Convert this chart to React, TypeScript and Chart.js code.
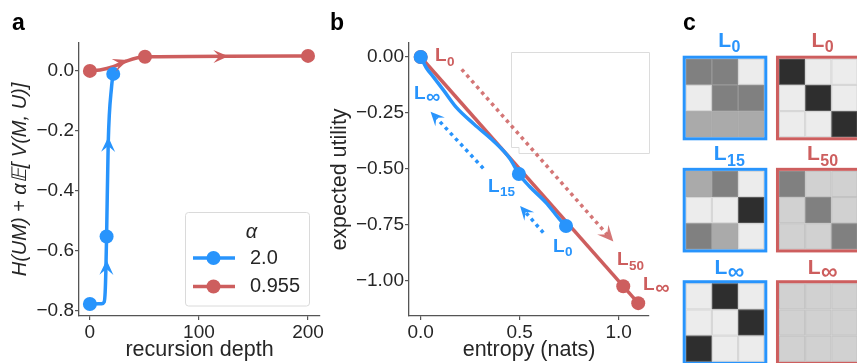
import React, { useEffect, useRef } from "react";
import { Chart, registerables } from "chart.js";
Chart.register(...registerables);

const FONT = "'Liberation Sans', Arial, sans-serif";
const BLUE = "rgb(40,148,252)";
const RED = "rgb(205,94,94)";
const RED_DOT = "rgba(205,94,94,0.85)";
const TXT = "#262626";
const AXIS = "#555555";

// ---------- Panel a ----------
const depthTicks = [0, 100, 200];
const objTicks = [0, -0.2, -0.4, -0.6, -0.8];
const blueDepth = [0, 10.7, 13.1, 14.0, 14.6, 15.3, 16.8, 19.9, 21.4];
const blueObj = [-0.777, -0.776, -0.77, -0.737, -0.67, -0.552, -0.241, -0.052, -0.01];
const blueMarkDepth = [0, 15.3, 21.4];
const blueMarkObj = [-0.777, -0.552, -0.01];
const redDepth = [0, 9.2, 21.4, 33.6, 50.5, 200];
const redObj = [0, 0.003, 0.014, 0.033, 0.047, 0.05];
const redMarkDepth = [0, 50.5, 200];
const redMarkObj = [0, 0.047, 0.05];
// arrows: [tailX, tailY, tipX, tipY]
const blueArrowsA = [[15.0, -0.72, 15.3, -0.63], [16.5, -0.33, 16.9, -0.22]];
const redArrowsA = [[22, 0.019, 35, 0.036], [110, 0.048, 127, 0.049]];
const legendLabels = ["2.0", "0.955"];

// ---------- Panel b ----------
const entTicks = [0, 0.5, 1.0];
const utilTicks = [0, -0.25, -0.5, -0.75, -1.0];
const redEnt = [0, 1.0986];
const redUtil = [0, -1.0986];
const redMarkEnt = [0, 1.023, 1.0986];
const redMarkUtil = [0, -1.023, -1.0986];
const blueEnt = [0, 0.03, 0.065, 0.115, 0.18, 0.27, 0.37, 0.45, 0.496, 0.55, 0.635, 0.705, 0.734];
const blueUtil = [0, -0.05, -0.09, -0.148, -0.225, -0.3, -0.377, -0.453, -0.522, -0.578, -0.652, -0.728, -0.754];
const blueMarkEnt = [0, 0.496, 0.734];
const blueMarkUtil = [0, -0.522, -0.754];
const redDotArrows = [[0.207, -0.055, 0.973, -0.824]];
const blueDotArrows = [[0.316, -0.497, 0.05, -0.244], [0.619, -0.784, 0.502, -0.665]];
// labels: [x, y(baseline), subscript]
const blueLabelsB: [number, number, string][] = [[-0.034, -0.189, "∞"], [0.34, -0.601, "15"], [0.668, -0.869, "0"]];
const redLabelsB: [number, number, string][] = [[0.072, -0.017, "0"], [0.991, -0.929, "50"], [1.123, -1.04, "∞"]];

// ---------- Panel c ----------
const blueL0 = [[0.57, 0.57, 0], [0, 0.57, 0.57], [0.35, 0.35, 0.35]];
const redL0 = [[1, 0, 0], [0, 1, 0], [0, 0, 1]];
const blueL15 = [[0.35, 0.57, 0], [0, 0, 1], [0.57, 0.35, 0]];
const redL50 = [[0.57, 0.14, 0.14], [0.14, 0.57, 0.14], [0.14, 0.14, 0.57]];
const blueLinf = [[0, 1, 0], [0, 0, 1], [1, 0, 0]];
const redLinf = [[0.14, 0.14, 0.14], [0.14, 0.14, 0.14], [0.14, 0.14, 0.14]];
const heatSubs = [["0", "0"], ["15", "50"], ["∞", "∞"]];

const zip = (xs: number[], ys: number[]) => xs.map((x, i) => ({ x, y: ys[i] }));

function arrowHead(ctx: CanvasRenderingContext2D, tx: number, ty: number, ang: number, len: number, hw: number, color: string) {
  ctx.save();
  ctx.translate(tx, ty);
  ctx.rotate(ang);
  ctx.fillStyle = color;
  ctx.beginPath();
  ctx.moveTo(0, 0);
  ctx.lineTo(-len, -hw);
  ctx.lineTo(-len * 0.6, 0);
  ctx.lineTo(-len, hw);
  ctx.closePath();
  ctx.fill();
  ctx.restore();
}

function drawArrows(chart: any, arrows: number[][], color: string, dotted: boolean, len = 15, hw = 7) {
  const { ctx, scales } = chart;
  const sx = scales.x, sy = scales.y;
  for (const [x0, y0, x1, y1] of arrows) {
    const px0 = sx.getPixelForValue(x0), py0 = sy.getPixelForValue(y0);
    const px1 = sx.getPixelForValue(x1), py1 = sy.getPixelForValue(y1);
    const ang = Math.atan2(py1 - py0, px1 - px0);
    if (dotted) {
      ctx.save();
      ctx.strokeStyle = color;
      ctx.lineWidth = 3.5;
      ctx.setLineDash([3.5, 4]);
      ctx.beginPath();
      ctx.moveTo(px0, py0);
      ctx.lineTo(px1 - Math.cos(ang) * len * 0.6, py1 - Math.sin(ang) * len * 0.6);
      ctx.stroke();
      ctx.restore();
    }
    arrowHead(ctx, px1, py1, ang, len, hw, color);
  }
}

function drawL(ctx: CanvasRenderingContext2D, x: number, y: number, sub: string, color: string, size: number, subSize: number, center: boolean) {
  ctx.save();
  ctx.textBaseline = "alphabetic";
  ctx.textAlign = "left";
  ctx.fillStyle = color;
  ctx.font = `bold ${size}px ${FONT}`;
  const wL = ctx.measureText("L").width;
  ctx.font = `bold ${subSize}px ${FONT}`;
  const wS = ctx.measureText(sub).width;
  const x0 = center ? x - (wL + wS) / 2 : x;
  ctx.font = `bold ${size}px ${FONT}`;
  ctx.fillText("L", x0, y);
  ctx.font = `bold ${subSize}px ${FONT}`;
  const off = sub === "∞" ? subSize * 0.2 : subSize * 0.35;
  ctx.fillText(sub, x0 + wL + 0.5, y + off);
  ctx.restore();
}

function panelLetter(ctx: CanvasRenderingContext2D, t: string, x: number) {
  ctx.save();
  ctx.font = `bold 23px ${FONT}`;
  ctx.fillStyle = "#000";
  ctx.textBaseline = "alphabetic";
  ctx.textAlign = "left";
  ctx.fillText(t, x, 30);
  ctx.restore();
}

function axisOpts(ticks: number[], fmt: (v: number) => string, title: any, fit: (s: any) => void, min: number, max: number) {
  return {
    type: "linear",
    min,
    max,
    afterBuildTicks: (s: any) => {
      s.ticks = ticks.map((v) => ({ value: v }));
    },
    afterFit: fit,
    grid: { display: true, drawOnChartArea: false, drawTicks: true, tickLength: 4, color: AXIS, lineWidth: 1.2 },
    border: { display: true, color: AXIS, width: 1.3 },
    ticks: { color: TXT, font: { family: FONT, size: 19 }, padding: 1, callback: (v: any) => fmt(Number(v)), autoSkip: false, maxRotation: 0 },
    title,
  };
}

const minus = (s: string) => s.replace("-", "\u2212");

function makeA() {
  const plugin = {
    id: "extrasA",
    afterDatasetsDraw(chart: any) {
      const ctx = chart.ctx as CanvasRenderingContext2D;
      drawArrows(chart, redArrowsA, RED, false, 15, 6.5);
      drawArrows(chart, blueArrowsA, BLUE, false, 15, 7);
      // legend
      const ca = chart.chartArea;
      const bx = ca.right - 135, by = ca.bottom - 104, bw = 124, bh = 93.5;
      ctx.save();
      ctx.fillStyle = "rgba(255,255,255,0.8)";
      ctx.strokeStyle = "#dadada";
      ctx.lineWidth = 1;
      ctx.beginPath();
      (ctx as any).roundRect(bx + 0.5, by + 0.5, bw, bh, 3);
      ctx.fill();
      ctx.stroke();
      ctx.fillStyle = TXT;
      ctx.textAlign = "center";
      ctx.textBaseline = "middle";
      ctx.font = `italic 20px ${FONT}`;
      ctx.fillText("α", bx + 66.5, by + 20);
      const cols = [BLUE, RED];
      legendLabels.forEach((lab, i) => {
        const yy = by + 46 + i * 28.5;
        ctx.strokeStyle = cols[i];
        ctx.lineWidth = 3.5;
        ctx.beginPath();
        ctx.moveTo(bx + 8, yy);
        ctx.lineTo(bx + 50, yy);
        ctx.stroke();
        ctx.fillStyle = cols[i];
        ctx.beginPath();
        ctx.arc(bx + 28.5, yy, 7, 0, Math.PI * 2);
        ctx.fill();
        ctx.fillStyle = TXT;
        ctx.textAlign = "left";
        ctx.font = `20px ${FONT}`;
        ctx.fillText(lab, bx + 65, yy);
      });
      ctx.restore();
      panelLetter(ctx, "a", 12);
    },
  };
  return {
    type: "scatter",
    data: {
      datasets: [
        { data: zip(blueMarkDepth, blueMarkObj), showLine: false, pointRadius: 7, pointHoverRadius: 7, backgroundColor: BLUE, borderWidth: 0, order: 0 },
        { data: zip(blueDepth, blueObj), showLine: true, pointRadius: 0, borderColor: BLUE, borderWidth: 3.5, cubicInterpolationMode: "monotone", order: 1 },
        { data: zip(redMarkDepth, redMarkObj), showLine: false, pointRadius: 7, pointHoverRadius: 7, backgroundColor: RED, borderWidth: 0, order: 2 },
        { data: zip(redDepth, redObj), showLine: true, pointRadius: 0, borderColor: RED, borderWidth: 3.5, cubicInterpolationMode: "monotone", order: 3 },
      ],
    },
    options: {
      responsive: false,
      animation: false,
      events: [],
      layout: { padding: { top: 43, right: 10, left: 0, bottom: 0 } },
      plugins: { legend: { display: false }, tooltip: { enabled: false } },
      scales: {
        x: axisOpts(depthTicks, (v) => String(v),
          { display: true, text: "recursion depth", color: TXT, font: { family: FONT, size: 21.5, lineHeight: 1.2 }, padding: { top: 0, bottom: 0 } },
          (s: any) => { s.height = 47; }, -10, 211),
        y: axisOpts(objTicks, (v) => minus(v.toFixed(1)),
          { display: true, text: "H(UM) + α𝔼[ V(M, U)]", color: TXT, font: { family: FONT, size: 20, style: "italic", lineHeight: 1.2 }, padding: { top: 8, bottom: 0 } },
          (s: any) => { s.width = 79; }, -0.817, 0.093),
      },
    },
    plugins: [plugin],
  };
}

function makeB() {
  const plugin = {
    id: "extrasB",
    beforeDatasetsDraw(chart: any) {
      const ctx = chart.ctx as CanvasRenderingContext2D;
      const ca = chart.chartArea;
      // empty legend frame
      const l = ca.left + 102, t = ca.top + 9, r = ca.right + 1, b = ca.top + 111;
      ctx.save();
      ctx.strokeStyle = "#dcdcdc";
      ctx.lineWidth = 1;
      ctx.beginPath();
      ctx.moveTo(l + 0.5, t + 0.5);
      ctx.lineTo(r - 0.5, t + 0.5);
      ctx.lineTo(r - 0.5, b - 0.5);
      ctx.lineTo(l + 8, b - 0.5);
      ctx.lineTo(l + 8, b - 6.5);
      ctx.lineTo(l + 0.5, b - 6.5);
      ctx.closePath();
      ctx.stroke();
      ctx.restore();
    },
    afterDatasetsDraw(chart: any) {
      const ctx = chart.ctx as CanvasRenderingContext2D;
      drawArrows(chart, redDotArrows, RED_DOT, true, 16, 7.5);
      drawArrows(chart, blueDotArrows, BLUE, true, 14, 6.5);
      const sx = chart.scales.x, sy = chart.scales.y;
      for (const [x, y, s] of blueLabelsB) drawL(ctx, sx.getPixelForValue(x), sy.getPixelForValue(y), s, BLUE, 19, s === "∞" ? 20 : 13.5, false);
      for (const [x, y, s] of redLabelsB) drawL(ctx, sx.getPixelForValue(x), sy.getPixelForValue(y), s, RED, 19, s === "∞" ? 20 : 13.5, false);
      panelLetter(ctx, "b", 0);
    },
  };
  return {
    type: "scatter",
    data: {
      datasets: [
        { data: zip(blueMarkEnt, blueMarkUtil), showLine: false, pointRadius: 7, pointHoverRadius: 7, backgroundColor: BLUE, borderWidth: 0, order: 0 },
        { data: zip(blueEnt, blueUtil), showLine: true, pointRadius: 0, borderColor: BLUE, borderWidth: 3.5, cubicInterpolationMode: "monotone", order: 1 },
        { data: zip(redMarkEnt, redMarkUtil), showLine: false, pointRadius: 7, pointHoverRadius: 7, backgroundColor: RED, borderWidth: 0, order: 2 },
        { data: zip(redEnt, redUtil), showLine: true, pointRadius: 0, borderColor: RED, borderWidth: 3.5, order: 3 },
      ],
    },
    options: {
      responsive: false,
      animation: false,
      events: [],
      layout: { padding: { top: 43, right: 31, left: 0, bottom: 0 } },
      plugins: { legend: { display: false }, tooltip: { enabled: false } },
      scales: {
        x: axisOpts(entTicks, (v) => v.toFixed(1),
          { display: true, text: "entropy (nats)", color: TXT, font: { family: FONT, size: 21.5, lineHeight: 1.2 }, padding: { top: 0, bottom: 0 } },
          (s: any) => { s.height = 47; }, -0.059, 1.153),
        y: axisOpts(utilTicks, (v) => minus(v.toFixed(2)),
          { display: true, text: "expected utility", color: TXT, font: { family: FONT, size: 21.5, lineHeight: 0.93 }, padding: { top: 0, bottom: 0 } },
          (s: any) => { s.width = 79; }, -1.156, 0.0625),
      },
    },
    plugins: [plugin],
  };
}

function makeC() {
  const mats = [[blueL0, redL0], [blueL15, redL50], [blueLinf, redLinf]];
  const colOff = [0, 3.56];
  const rowOff = [0, 4.28, 8.57];
  const labelGap = [9, 7.5, 6];
  const plugin = {
    id: "heat",
    afterDraw(chart: any) {
      const ctx = chart.ctx as CanvasRenderingContext2D;
      const sx = chart.scales.x, sy = chart.scales.y;
      mats.forEach((row, r) => {
        row.forEach((m, c) => {
          const color = c === 0 ? BLUE : RED;
          const ox = colOff[c], oy = rowOff[r];
          m.forEach((cells, i) => {
            cells.forEach((v, j) => {
              const x0 = sx.getPixelForValue(ox + j), x1 = sx.getPixelForValue(ox + j + 1);
              const y0 = sy.getPixelForValue(oy + i), y1 = sy.getPixelForValue(oy + i + 1);
              const g = Math.round(236 - v * 190);
              ctx.fillStyle = `rgb(${g},${g},${g})`;
              ctx.fillRect(x0, y0, x1 - x0, y1 - y0);
              ctx.strokeStyle = "rgba(170,170,170,0.35)";
              ctx.lineWidth = 1;
              ctx.strokeRect(x0 + 0.5, y0 + 0.5, x1 - x0 - 1, y1 - y0 - 1);
            });
          });
          const L = sx.getPixelForValue(ox), R = sx.getPixelForValue(ox + 3);
          const T = sy.getPixelForValue(oy), B = sy.getPixelForValue(oy + 3);
          ctx.save();
          ctx.strokeStyle = color;
          ctx.lineWidth = 3;
          ctx.strokeRect(L - 1.5, T - 1.5, R - L + 3, B - T + 3);
          ctx.restore();
          const sub = heatSubs[r][c];
          drawL(ctx, (L + R) / 2 + 4, T - 3 - labelGap[r], sub, color, 21, sub === "∞" ? 23 : 16, true);
        });
      });
      panelLetter(ctx, "c", 23);
    },
  };
  const cell = 26.2;
  const xmin = -25.7 / cell, ymin = -58.7 / cell;
  return {
    type: "scatter",
    data: { datasets: [{ data: [] }] },
    options: {
      responsive: false,
      animation: false,
      events: [],
      layout: { padding: 0 },
      plugins: { legend: { display: false }, tooltip: { enabled: false } },
      scales: {
        x: { type: "linear", display: false, min: xmin, max: xmin + 197 / cell },
        y: { type: "linear", display: false, reverse: true, min: ymin, max: ymin + 363 / cell },
      },
    },
    plugins: [plugin],
  };
}

function ChartCanvas({ left, width, make }: { left: number; width: number; make: () => any }) {
  const ref = useRef<HTMLCanvasElement>(null);
  useEffect(() => {
    const chart = new Chart(ref.current as HTMLCanvasElement, make());
    return () => chart.destroy();
  }, []);
  return (
    <canvas
      ref={ref}
      width={width}
      height={363}
      style={{ position: "absolute", left, top: 0, width, height: 363 }}
    />
  );
}

export default function App() {
  return (
    <div style={{ position: "fixed", left: 0, top: 0, width: 857, height: 363, background: "#fff", overflow: "hidden" }}>
      <ChartCanvas left={0} width={330} make={makeA} />
      <ChartCanvas left={330} width={350} make={makeB} />
      <ChartCanvas left={660} width={197} make={makeC} />
    </div>
  );
}
